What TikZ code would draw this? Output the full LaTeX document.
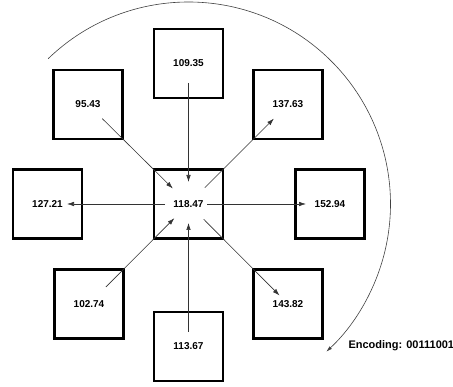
\documentclass[tikz,border=0pt]{standalone}
\usepackage{fontspec}
\setmainfont{Liberation Sans}
\usetikzlibrary{arrows.meta}

\begin{document}
\begin{tikzpicture}[x=1pt, y=1pt,
    cell/.style={draw, line width=2.8pt, minimum size=69pt, inner sep=0pt, font=\bfseries},
    link/.style={draw=black!80, line width=0.6pt, -{Latex[length=7pt,width=4.5pt]}},
    sweep/.style={draw=black!75, line width=0.6pt, -{Latex[length=6pt,width=3.5pt]}}]
      \useasboundingbox (0,0) rectangle (453,387);
      % middle cell and its eight neighbours
      \node[cell] (mid) at (188.5,183) {118.47};
      \node[cell] (nn) at (188.5,323.5) {109.35};
      \node[cell] (nw) at (88,282.5) {95.43};
      \node[cell] (ne) at (288,282.5) {137.63};
      \node[cell] (ww) at (47.5,183) {127.21};
      \node[cell] (ee) at (330,183) {152.94};
      \node[cell] (sw) at (89,83) {102.74};
      \node[cell] (ss) at (188.5,40.5) {113.67};
      \node[cell] (se) at (288,83) {143.82};
      % into the middle
      \draw[link, shorten <=20pt, shorten >=22pt] (nw.center) -- (mid.center);
      \draw[link, shorten <=19.5pt, shorten >=22pt] (nn.center) -- (mid.center);
      \draw[link, shorten <=24pt, shorten >=20pt] (sw.center) -- (mid.center);
      \draw[link, shorten <=14.5pt, shorten >=19pt] (ss.center) -- (mid.center);
      % out of the middle
      \draw[link, shorten <=23.5pt, shorten >=19.5pt] (mid.center) -- (ww.center);
      \draw[link, shorten <=18.5pt, shorten >=24pt] (mid.center) -- (ee.center);
      \draw[link, shorten <=23pt, shorten >=20pt] (mid.center) -- (ne.center);
      \draw[link, shorten <=21.5pt, shorten >=12pt] (mid.center) -- (se.center);
      % the sweep round the cells
      \coordinate (sweepstart) at ([shift={(134:202pt)}]mid.center);
      \draw[sweep] (sweepstart) arc[start angle=134, end angle=-47, radius=202pt];
      \node[anchor=west, font=\fontsize{11}{13}\selectfont\bfseries] (code) at (345,41) {Encoding: 00111001};
    \end{tikzpicture}
\end{document}
